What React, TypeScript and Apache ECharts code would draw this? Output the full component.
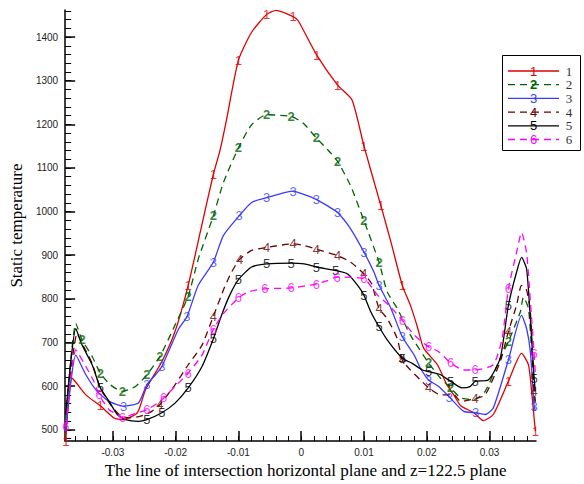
import React, { useEffect, useRef } from "react";
import * as echarts from "echarts";

// Axis ranges and tick values
const XMIN = -0.0376;
const XMAX = 0.0374;
const YMIN = 474;
const YMAX = 1462;
const X_MAJOR = [-0.03, -0.02, -0.01, 0, 0.01, 0.02, 0.03];
const X_MINOR = [-0.036, -0.034, -0.032, -0.03, -0.028, -0.026, -0.024, -0.022, -0.02, -0.018, -0.016, -0.014, -0.012, -0.01, -0.008, -0.006, -0.004, -0.002, 0, 0.002, 0.004, 0.006, 0.008, 0.01, 0.012, 0.014, 0.016, 0.018, 0.02, 0.022, 0.024, 0.026, 0.028, 0.03, 0.032, 0.034, 0.036];
const Y_MAJOR = [500, 600, 700, 800, 900, 1000, 1100, 1200, 1300, 1400];
const Y_MINOR = [480, 500, 520, 540, 560, 580, 600, 620, 640, 660, 680, 700, 720, 740, 760, 780, 800, 820, 840, 860, 880, 900, 920, 940, 960, 980, 1000, 1020, 1040, 1060, 1080, 1100, 1120, 1140, 1160, 1180, 1200, 1220, 1240, 1260, 1280, 1300, 1320, 1340, 1360, 1380, 1400, 1420, 1440, 1460];

const X_TITLE = "The line of intersection horizontal plane and z=122.5 plane";
const Y_TITLE = "Static temperature";

// Curve 1
const X1 = [-0.0375, -0.0372, -0.0365, -0.0343, -0.032, -0.0298, -0.0285, -0.0261, -0.0248, -0.0222, -0.0201, -0.018, -0.016, -0.014, -0.0129, -0.0119, -0.01, -0.0079, -0.0055, -0.004, -0.0013, -0.0005, 0.0025, 0.0058, 0.0081, 0.01, 0.0127, 0.0143, 0.0161, 0.0174, 0.0185, 0.0195, 0.0217, 0.0232, 0.0243, 0.0254, 0.0275, 0.029, 0.0306, 0.033, 0.0351, 0.0362, 0.0367, 0.0371, 0.0373];
const T1 = [474, 540, 618, 580, 555, 527, 523, 539, 592, 656, 725, 831, 958, 1085, 1142, 1210, 1347, 1411, 1452, 1461, 1447, 1438, 1358, 1290, 1256, 1150, 1013, 930, 831, 785, 736, 687, 649, 603, 580, 555, 539, 521, 535, 611, 675, 649, 588, 527, 497];
const M1 = [0, 4, 11, 13, 16, 18, 20, 22, 23, 25, 26, 28, 39, 44];

// Curve 2
const X2 = [-0.0375, -0.0359, -0.0349, -0.0333, -0.032, -0.0304, -0.0285, -0.0264, -0.0246, -0.0225, -0.0201, -0.018, -0.0164, -0.014, -0.0124, -0.01, -0.0079, -0.0055, -0.0016, 0.0003, 0.0024, 0.0042, 0.0058, 0.0079, 0.01, 0.0124, 0.0137, 0.0153, 0.0174, 0.0203, 0.0222, 0.0238, 0.0254, 0.0275, 0.0293, 0.0317, 0.033, 0.0349, 0.0354, 0.0362, 0.0367, 0.0371, 0.0373];
const T2 = [525, 744, 706, 668, 630, 603, 588, 599, 626, 668, 740, 806, 891, 990, 1066, 1146, 1199, 1222, 1218, 1203, 1169, 1142, 1115, 1058, 979, 884, 816, 778, 717, 653, 618, 596, 573, 569, 588, 664, 702, 770, 804, 778, 679, 588, 557];
const M2 = [2, 4, 6, 8, 9, 11, 13, 15, 17, 18, 20, 22, 24, 25, 29, 31, 36];

// Curve 3
const X3 = [-0.0375, -0.0359, -0.0343, -0.0325, -0.0306, -0.0283, -0.0259, -0.0246, -0.0232, -0.0222, -0.0195, -0.0182, -0.0164, -0.014, -0.0124, -0.0099, -0.0079, -0.0055, -0.0013, 0.0005, 0.0024, 0.0042, 0.0058, 0.0079, 0.01, 0.0116, 0.0124, 0.0143, 0.0161, 0.018, 0.019, 0.0203, 0.0219, 0.0236, 0.0259, 0.0278, 0.0293, 0.0306, 0.033, 0.0351, 0.0359, 0.0365, 0.0371, 0.0373];
const T3 = [497, 671, 626, 588, 565, 554, 562, 603, 626, 645, 732, 759, 831, 884, 945, 990, 1021, 1032, 1047, 1039, 1028, 1013, 998, 960, 907, 861, 831, 778, 713, 671, 641, 614, 599, 575, 542, 539, 535, 550, 660, 762, 732, 679, 554, 543];
const M3 = [5, 7, 9, 11, 13, 15, 17, 18, 20, 22, 24, 26, 28, 31, 33, 35, 38, 42];

// Curve 4
const X4 = [-0.0375, -0.0357, -0.0352, -0.0333, -0.032, -0.0304, -0.029, -0.0275, -0.0256, -0.0238, -0.0225, -0.0201, -0.018, -0.0158, -0.014, -0.0122, -0.0111, -0.0098, -0.0079, -0.0055, -0.0013, 0.0005, 0.0024, 0.0058, 0.0079, 0.01, 0.0112, 0.0124, 0.0137, 0.0153, 0.0161, 0.0174, 0.019, 0.0203, 0.0222, 0.0243, 0.0254, 0.0277, 0.0293, 0.0317, 0.033, 0.0343, 0.0351, 0.0359, 0.0365, 0.0371, 0.0373];
const T4 = [535, 721, 706, 652, 596, 558, 535, 527, 531, 542, 558, 603, 649, 694, 760, 827, 861, 891, 911, 918, 926, 922, 914, 899, 884, 857, 835, 778, 755, 709, 660, 637, 614, 596, 580, 580, 565, 571, 580, 656, 725, 785, 831, 820, 770, 588, 565];
const M4 = [10, 14, 17, 19, 20, 22, 23, 25, 27, 30, 33, 37, 40, 45];

// Curve 5
const X5 = [-0.0375, -0.0359, -0.0349, -0.0333, -0.032, -0.0306, -0.0293, -0.028, -0.0259, -0.0246, -0.0222, -0.0201, -0.018, -0.0158, -0.014, -0.0127, -0.0114, -0.01, -0.0079, -0.0055, -0.0016, 0.0005, 0.0024, 0.0055, 0.0074, 0.0092, 0.01, 0.0111, 0.0124, 0.0137, 0.0161, 0.0177, 0.0193, 0.0203, 0.0222, 0.0238, 0.0256, 0.0269, 0.0277, 0.0298, 0.0317, 0.033, 0.0343, 0.0351, 0.0359, 0.0365, 0.0371, 0.0373];
const T5 = [535, 732, 694, 649, 596, 565, 535, 523, 519, 523, 539, 561, 596, 645, 708, 762, 808, 844, 873, 880, 882, 880, 873, 865, 857, 827, 808, 770, 736, 706, 664, 652, 637, 633, 626, 611, 596, 599, 611, 614, 664, 785, 861, 895, 869, 755, 618, 588];
const M5 = [4, 9, 10, 12, 14, 17, 19, 20, 22, 23, 26, 28, 30, 33, 35, 38, 41, 46];

// Curve 6
const X6 = [-0.0375, -0.0359, -0.0343, -0.033, -0.0322, -0.0306, -0.0293, -0.0285, -0.0269, -0.0246, -0.0232, -0.0219, -0.0201, -0.018, -0.0158, -0.014, -0.0124, -0.01, -0.0084, -0.0058, -0.0016, 0.0024, 0.0042, 0.0057, 0.01, 0.0122, 0.014, 0.0161, 0.018, 0.0203, 0.0219, 0.0238, 0.0259, 0.0277, 0.0306, 0.032, 0.033, 0.0343, 0.0351, 0.0359, 0.0367, 0.0371, 0.0373];
const T6 = [508, 683, 645, 610, 580, 546, 535, 527, 535, 546, 558, 573, 599, 630, 671, 730, 766, 802, 816, 823, 825, 834, 842, 850, 846, 808, 785, 751, 717, 690, 679, 653, 637, 637, 649, 709, 823, 906, 952, 906, 755, 675, 626];
const M6 = [0, 4, 7, 9, 11, 13, 15, 17, 19, 20, 21, 23, 24, 27, 29, 31, 33, 36, 41];

const NAMES = ["1", "2", "3", "4", "5", "6"];
const COLORS = ["#e00000", "#006400", "#3a3aff", "#6a0000", "#000000", "#ff00ff"];
const DASHED = [false, true, false, true, false, true];

export default function App() {
  const ref = useRef<HTMLDivElement>(null);
  useEffect(() => {
    if (!ref.current) return;
    const chart = echarts.init(ref.current, undefined, { renderer: "svg" });
    const xs = [X1, X2, X3, X4, X5, X6];
    const ys = [T1, T2, T3, T4, T5, T6];
    const ms = [M1, M2, M3, M4, M5, M6];
    const DASH = [7, 5];

    const series: any[] = [];
    NAMES.forEach((name, k) => {
      series.push({
        type: "line",
        name,
        data: xs[k].map((x, i) => [x, ys[k][i]]),
        showSymbol: false,
        symbol: "none",
        smooth: 0.2,
        lineStyle: { color: COLORS[k], width: 1.3, type: DASHED[k] ? DASH : "solid" },
        z: 2,
        silent: true,
      });
    });
    NAMES.forEach((name, k) => {
      series.push({
        type: "scatter",
        name: name + "m",
        data: ms[k].map((i) => [xs[k][i], ys[k][i]]),
        symbol: "circle",
        symbolSize: 2,
        itemStyle: { color: "rgba(0,0,0,0)" },
        label: {
          show: true,
          position: "inside",
          formatter: name,
          color: COLORS[k],
          fontSize: 13,
          fontWeight: k === 1 ? "bold" : "normal",
          fontFamily: "Liberation Sans, Arial, sans-serif",
        },
        labelLayout: { hideOverlap: false },
        z: 3,
        silent: true,
      });
    });

    const legendTop = 71;
    const legendStep = 13.7;
    const graphic: any[] = [
      {
        type: "rect",
        shape: { x: 502.5, y: 55.5, width: 78, height: 95 },
        style: { fill: "#fff", stroke: "#000", lineWidth: 1 },
        z: 10,
      },
    ];
    NAMES.forEach((name, k) => {
      const y = legendTop + legendStep * k;
      graphic.push({
        type: "line",
        shape: { x1: 508, y1: y, x2: 559, y2: y },
        style: { stroke: COLORS[k], lineWidth: 1.3, lineDash: DASHED[k] ? DASH : null },
        z: 11,
      });
      graphic.push({
        type: "text",
        x: 533.5,
        y,
        style: {
          text: name,
          fill: COLORS[k],
          font: (k === 1 ? "bold " : "") + "13px Liberation Sans, Arial, sans-serif",
          align: "center",
          verticalAlign: "middle",
        },
        z: 12,
      });
      graphic.push({
        type: "text",
        x: 569,
        y,
        style: {
          text: name,
          fill: "#333",
          font: "13px Liberation Serif, Times New Roman, serif",
          align: "center",
          verticalAlign: "middle",
        },
        z: 12,
      });
    });

    const axisLineStyle = { color: "#000", width: 1.5 };
    chart.setOption({
      animation: false,
      backgroundColor: "#fff",
      grid: { left: 63, right: 48, top: 10, bottom: 41, containLabel: false },
      xAxis: [
        {
          type: "value",
          min: XMIN,
          max: XMAX,
          position: "bottom",
          axisLine: { show: true, onZero: false, lineStyle: axisLineStyle },
          axisTick: { show: true, inside: true, length: 10, customValues: X_MAJOR, lineStyle: { color: "#000", width: 1.5 } },
          axisLabel: {
            customValues: X_MAJOR,
            formatter: (v: number) => (Math.abs(v) < 1e-9 ? "0" : v.toFixed(2)),
            fontSize: 10,
            color: "#222",
            fontFamily: "Liberation Sans, Arial, sans-serif",
            margin: 6,
          },
          splitLine: { show: false },
          name: X_TITLE,
          nameLocation: "middle",
          nameGap: 13,
          nameTextStyle: { fontSize: 17, color: "#000", fontFamily: "Liberation Serif, Times New Roman, serif", padding: [0, 0, 0, 10] },
        },
        {
          type: "value",
          min: XMIN,
          max: XMAX,
          position: "bottom",
          axisLine: { show: false, onZero: false },
          axisTick: { show: true, inside: true, length: 5, customValues: X_MINOR, lineStyle: { color: "#000", width: 1 } },
          axisLabel: { show: false },
          splitLine: { show: false },
        },
      ],
      yAxis: [
        {
          type: "value",
          min: YMIN,
          max: YMAX,
          position: "left",
          axisLine: { show: true, onZero: false, lineStyle: axisLineStyle },
          axisTick: { show: true, inside: true, length: 10, customValues: Y_MAJOR, lineStyle: { color: "#000", width: 1.5 } },
          axisLabel: {
            customValues: Y_MAJOR,
            formatter: (v: number) => String(Math.round(v)),
            fontSize: 10,
            color: "#222",
            fontFamily: "Liberation Sans, Arial, sans-serif",
            margin: 7,
          },
          splitLine: { show: false },
          name: Y_TITLE,
          nameLocation: "middle",
          nameGap: 34,
          nameRotate: 90,
          nameTextStyle: { fontSize: 17, color: "#000", fontFamily: "Liberation Serif, Times New Roman, serif" },
        },
        {
          type: "value",
          min: YMIN,
          max: YMAX,
          position: "left",
          axisLine: { show: false, onZero: false },
          axisTick: { show: true, inside: true, length: 6, customValues: Y_MINOR, lineStyle: { color: "#000", width: 1 } },
          axisLabel: { show: false },
          splitLine: { show: false },
        },
      ],
      series,
      graphic,
    });
    return () => chart.dispose();
  }, []);
  return <div ref={ref} style={{ position: "absolute", left: 0, top: 0, width: 584, height: 484 }} />;
}
